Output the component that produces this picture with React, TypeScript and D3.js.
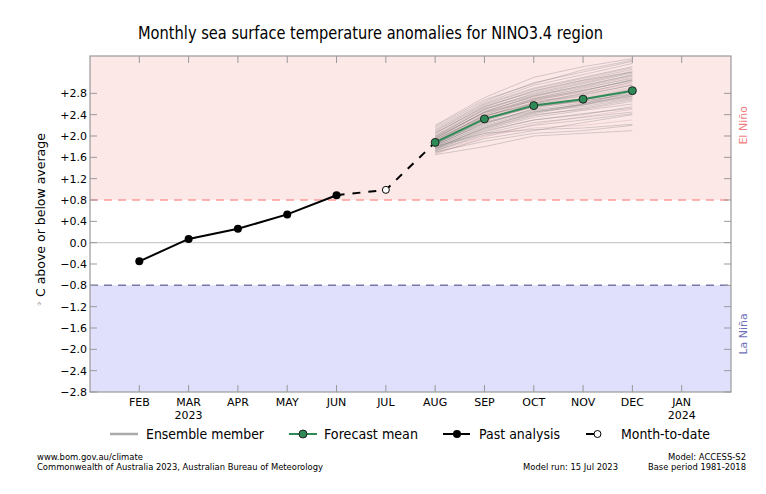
import * as d3 from 'd3';

const months = ['FEB', 'MAR', 'APR', 'MAY', 'JUN', 'JUL', 'AUG', 'SEP', 'OCT', 'NOV', 'DEC', 'JAN'];
const yearLabels: Record<string, string> = {MAR: '2023', JAN: '2024'};

const pastMonths = ['FEB', 'MAR', 'APR', 'MAY', 'JUN'];
const pastValues = [-0.35, 0.07, 0.26, 0.53, 0.89];

const mtdMonths = ['JUN', 'JUL', 'AUG'];
const mtdValues = [0.89, 0.99, 1.88];

const fcMonths = ['AUG', 'SEP', 'OCT', 'NOV', 'DEC'];
const fcMean = [1.88, 2.32, 2.57, 2.69, 2.85];

// ensemble members, values for AUG..DEC
const ensemble = [
    [1.88, 2.35, 2.60, 2.72, 2.90],
    [1.95, 2.45, 2.75, 2.95, 3.15],
    [1.80, 2.20, 2.45, 2.55, 2.70],
    [2.05, 2.55, 2.85, 3.05, 3.25],
    [1.75, 2.10, 2.30, 2.40, 2.55],
    [1.90, 2.40, 2.70, 2.85, 3.05],
    [1.70, 2.00, 2.15, 2.20, 2.30],
    [2.15, 2.65, 3.00, 3.20, 3.40],
    [1.85, 2.30, 2.55, 2.65, 2.80],
    [1.98, 2.50, 2.80, 3.00, 3.20],
    [1.78, 2.15, 2.40, 2.50, 2.65],
    [1.92, 2.38, 2.62, 2.78, 2.95],
    [2.00, 2.48, 2.72, 2.88, 3.10],
    [1.65, 1.80, 2.00, 2.05, 2.10],
    [1.82, 2.25, 2.50, 2.62, 2.75],
    [2.10, 2.60, 2.90, 3.10, 3.30],
    [1.72, 2.05, 2.25, 2.35, 2.45],
    [1.88, 2.32, 2.58, 2.70, 2.85],
    [1.94, 2.42, 2.68, 2.82, 3.00],
    [2.20, 2.72, 3.10, 3.30, 3.45],
    [1.76, 2.12, 2.35, 2.48, 2.60],
    [1.84, 2.28, 2.55, 2.70, 2.88],
    [2.02, 2.52, 2.78, 2.98, 3.18],
    [1.68, 1.95, 2.10, 2.25, 2.40],
    [1.90, 2.36, 2.64, 2.80, 2.98],
    [1.86, 2.26, 2.48, 2.58, 2.72],
    [2.08, 2.58, 2.88, 3.08, 3.28],
    [1.74, 2.08, 2.30, 2.42, 2.52],
    [1.96, 2.46, 2.74, 2.92, 3.12],
    [1.80, 2.18, 2.42, 2.58, 2.78],
    [1.92, 2.40, 2.66, 2.74, 2.92],
    [1.70, 1.90, 2.05, 2.10, 2.20],
    [2.12, 2.62, 2.95, 3.15, 3.36],
    [1.83, 2.22, 2.52, 2.68, 2.82],
    [1.98, 2.44, 2.70, 2.90, 3.08],
    [1.78, 2.14, 2.38, 2.52, 2.68],
    [2.04, 2.56, 2.82, 3.02, 3.22],
    [1.87, 2.34, 2.56, 2.66, 2.78],
    [1.93, 2.38, 2.60, 2.76, 2.96],
    [1.72, 2.02, 2.20, 2.30, 2.42],
    [2.00, 2.50, 2.76, 2.94, 3.14],
    [1.85, 2.30, 2.62, 2.80, 3.02],
    [1.90, 2.32, 2.54, 2.64, 2.76],
    [2.06, 2.54, 2.84, 3.04, 3.20],
    [1.76, 2.16, 2.44, 2.60, 2.74],
    [1.95, 2.44, 2.66, 2.84, 3.06],
    [1.82, 2.24, 2.46, 2.60, 2.84],
    [2.18, 2.68, 2.98, 3.24, 3.42],
    [1.66, 1.98, 2.22, 2.36, 2.50],
    [1.89, 2.36, 2.68, 2.86, 3.04],
    [1.80, 2.05, 2.12, 2.15, 2.22],
];

const yTicks = [-2.8, -2.4, -2.0, -1.6, -1.2, -0.8, -0.4, 0, 0.4, 0.8, 1.2, 1.6, 2.0, 2.4, 2.8];
const elNinoThreshold = 0.8;
const laNinaThreshold = -0.8;

const W = 766, H = 494;
const margin = {top: 56, right: 35, bottom: 102, left: 90};
const font = 'DejaVu Sans, sans-serif';

const fmt = (v: number) => v === 0 ? '0.0' : (v > 0 ? '+' : '\u2212') + Math.abs(v).toFixed(1);

const App = () => {
    const x = d3.scalePoint<string>()
        .domain(['', ...months, ' '])
        .range([margin.left, W - margin.right]);
    const y = d3.scaleLinear().domain([-2.8, 3.5]).range([H - margin.bottom, margin.top]);
    const x0 = margin.left, x1 = W - margin.right, y0 = margin.top, y1 = H - margin.bottom;

    const line = d3.line<[string, number]>().x(d => x(d[0])!).y(d => y(d[1]));
    const zip = (ms: string[], vs: number[]) => ms.map((m, i) => [m, vs[i]] as [string, number]);

    const tickColor = '#999';
    const legendY = 434;
    const fit = {lengthAdjust: 'spacingAndGlyphs'} as const;

    return (
        <svg width={W} height={H} style={{position: 'absolute', left: 0, top: 0}} fontFamily={font}>
            <text x={138} y={39} fontSize={18.5} textLength={465} {...fit}>Monthly sea surface temperature anomalies for NINO3.4 region</text>

            {/* background bands */}
            <rect x={x0} y={y0} width={x1 - x0} height={y(elNinoThreshold) - y0} fill="#fde8e8"/>
            <rect x={x0} y={y(laNinaThreshold)} width={x1 - x0} height={y1 - y(laNinaThreshold)} fill="#e0e0fc"/>
            <line x1={x0} x2={x1} y1={y(0)} y2={y(0)} stroke="#ccc" strokeWidth={1.2}/>
            <line x1={x0} x2={x1} y1={y(elNinoThreshold)} y2={y(elNinoThreshold)} stroke="#ff9a9a" strokeWidth={1.5} strokeDasharray="8,6"/>
            <line x1={x0} x2={x1} y1={y(laNinaThreshold)} y2={y(laNinaThreshold)} stroke="#7777aa" strokeWidth={1.5} strokeDasharray="8,6"/>

            {/* ensemble */}
            {ensemble.map((vals, i) => (
                <path key={i} d={line(zip(fcMonths, vals))!} fill="none"
                      stroke={i % 6 === 0 ? 'rgba(190,150,150,0.3)' : 'rgba(105,105,105,0.28)'} strokeWidth={1}/>
            ))}

            {/* past analysis */}
            <path d={line(zip(pastMonths, pastValues))!} fill="none" stroke="#000" strokeWidth={2}/>
            {pastMonths.map((m, i) => <circle key={m} cx={x(m)} cy={y(pastValues[i])} r={4} fill="#000"/>)}

            {/* month to date */}
            <path d={line(zip(mtdMonths, mtdValues))!} fill="none" stroke="#000" strokeWidth={2} strokeDasharray="8,8"/>
            <circle cx={x('JUL')} cy={y(mtdValues[1])} r={3.5} fill="#fff" stroke="#000" strokeWidth={1}/>

            {/* forecast mean */}
            <path d={line(zip(fcMonths, fcMean))!} fill="none" stroke="#2e8b57" strokeWidth={2}/>
            {fcMonths.map((m, i) => <circle key={m} cx={x(m)} cy={y(fcMean[i])} r={4} fill="#2e8b57" stroke="#222" strokeWidth={1}/>)}

            {/* frame */}
            <rect x={x0} y={y0} width={x1 - x0} height={y1 - y0} fill="none" stroke={tickColor} strokeWidth={1.2}/>

            {/* y ticks */}
            {yTicks.map(t => (
                <g key={t}>
                    <line x1={x0} x2={x0 + 7} y1={y(t)} y2={y(t)} stroke={tickColor}/>
                    <line x1={x1 - 7} x2={x1} y1={y(t)} y2={y(t)} stroke={tickColor}/>
                    <text x={x0 - 3} y={y(t)} dy="0.35em" textAnchor="end" fontSize={11}>{fmt(t)}</text>
                </g>
            ))}

            {/* x ticks */}
            {months.map(m => (
                <g key={m}>
                    <line x1={x(m)} x2={x(m)} y1={y1} y2={y1 - 7} stroke={tickColor}/>
                    <line x1={x(m)} x2={x(m)} y1={y0} y2={y0 + 7} stroke={tickColor}/>
                    <text x={x(m)} y={406} textAnchor="middle" fontSize={11}>{m}</text>
                    {yearLabels[m] && <text x={x(m)} y={419} textAnchor="middle" fontSize={11}>{yearLabels[m]}</text>}
                </g>
            ))}

            <text transform={`translate(45,${(y0 + y1) / 2 - 4}) rotate(-90)`} textAnchor="middle" fontSize={12.5}>
                <tspan fontSize={10} dy="-2">{'\u25e6'}</tspan><tspan dy="2"> C above or below average</tspan>
            </text>
            <text transform={`translate(747,${y(2.2)}) rotate(-90)`} textAnchor="middle" fontSize={11} fill="#f08080">El Niño</text>
            <text transform={`translate(747,${y(-1.71)}) rotate(-90)`} textAnchor="middle" fontSize={11} fill="#7070b8">La Niña</text>

            {/* legend */}
            <g fontSize={14}>
                <line x1={110} x2={138} y1={legendY} y2={legendY} stroke="#aaa" strokeWidth={2.5}/>
                <text x={146} y={legendY} dy="0.35em" textLength={118} {...fit}>Ensemble member</text>
                <line x1={289} x2={317} y1={legendY} y2={legendY} stroke="#2e8b57" strokeWidth={2}/>
                <circle cx={303} cy={legendY} r={4} fill="#2e8b57" stroke="#222"/>
                <text x={324} y={legendY} dy="0.35em" textLength={94} {...fit}>Forecast mean</text>
                <line x1={443} x2={470} y1={legendY} y2={legendY} stroke="#000" strokeWidth={2}/>
                <circle cx={457} cy={legendY} r={4} fill="#000"/>
                <text x={479} y={legendY} dy="0.35em" textLength={81} {...fit}>Past analysis</text>
                <line x1={586} x2={594} y1={legendY} y2={legendY} stroke="#000" strokeWidth={2}/>
                <circle cx={597.5} cy={legendY} r={3.5} fill="#fff" stroke="#000"/>
                <text x={621} y={legendY} dy="0.35em" textLength={89} {...fit}>Month-to-date</text>
            </g>

            {/* footer */}
            <g fontSize={9.5} fontFamily="DejaVu Sans Condensed, DejaVu Sans, sans-serif" style={{fontStretch: 'condensed'}}>
                <text x={37} y={460} textLength={106} {...fit}>www.bom.gov.au/climate</text>
                <text x={37} y={470} textLength={286} {...fit}>Commonwealth of Australia 2023, Australian Bureau of Meteorology</text>
                <text x={523} y={470} textLength={95} {...fit}>Model run: 15 Jul 2023</text>
                <text x={668} y={460} textLength={78} {...fit}>Model: ACCESS-S2</text>
                <text x={648} y={470} textLength={98} {...fit}>Base period 1981-2018</text>
            </g>
        </svg>
    );
};

export default App;
